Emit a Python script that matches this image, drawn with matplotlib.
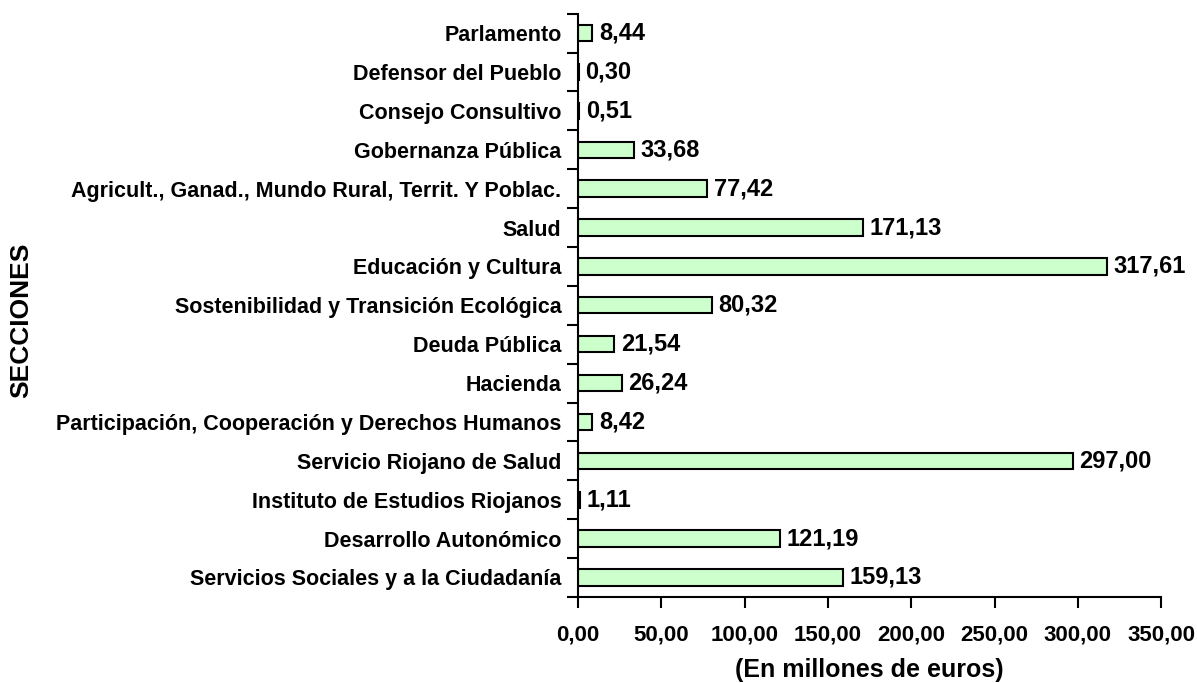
import numpy as np
import matplotlib.pyplot as plt
from matplotlib.ticker import FuncFormatter

secciones = [
    "Parlamento",
    "Defensor del Pueblo",
    "Consejo Consultivo",
    "Gobernanza Pública",
    "Agricult., Ganad., Mundo Rural, Territ. Y Poblac.",
    "Salud",
    "Educación y Cultura",
    "Sostenibilidad y Transición Ecológica",
    "Deuda Pública",
    "Hacienda",
    "Participación, Cooperación y Derechos Humanos",
    "Servicio Riojano de Salud",
    "Instituto de Estudios Riojanos",
    "Desarrollo Autonómico",
    "Servicios Sociales y a la Ciudadanía",
]
importes = [8.44, 0.30, 0.51, 33.68, 77.42, 171.13, 317.61, 80.32,
            21.54, 26.24, 8.42, 297.00, 1.11, 121.19, 159.13]

plt.rcParams['font.family'] = ['Liberation Sans', 'DejaVu Sans']
plt.rcParams['font.weight'] = 'bold'

fig = plt.figure(figsize=(11.97, 6.83), dpi=100)
ax = fig.add_axes([0.483, 0.126, 0.487, 0.854])

n = len(secciones)
y = np.arange(n)
ax.barh(y, importes, height=0.42, color='#ccffcc', edgecolor='black', linewidth=1.5)

def coma(v, pos=None):
    return f"{v:,.2f}".replace(',', 'X').replace('.', ',').replace('X', '.')

for yi, v in zip(y, importes):
    ax.text(v + 4, yi, coma(v), va='center', ha='left', fontsize=17, fontweight='bold')

ax.set_ylim(n - 0.5, -0.5)
ax.set_xlim(0, 350)
ax.set_xticks(np.arange(0, 351, 50))
ax.xaxis.set_major_formatter(FuncFormatter(coma))

# etiquetas centradas en las barras, marcas en los limites
ax.set_yticks(y)
ax.set_yticklabels(secciones, fontsize=15.5, fontweight='bold')
ax.tick_params(axis='y', which='major', length=0, pad=12)
ax.set_yticks(np.arange(-0.5, n, 1), minor=True)
ax.tick_params(axis='y', which='minor', length=8, width=1.5)
ax.tick_params(axis='x', length=8, width=1.5, labelsize=16, pad=12)
for lbl in ax.get_xticklabels():
    lbl.set_fontweight('bold')

for s in ['top', 'right']:
    ax.spines[s].set_visible(False)
for s in ['left', 'bottom']:
    ax.spines[s].set_linewidth(1.5)

ax.set_xlabel("(En millones de euros)", fontsize=18, fontweight='bold', labelpad=9)
fig.text(0.018, 0.531, "SECCIONES", rotation=90, va='center', ha='center',
         fontsize=19, fontweight='bold')

plt.savefig('out.png', dpi=100)
plt.close()
